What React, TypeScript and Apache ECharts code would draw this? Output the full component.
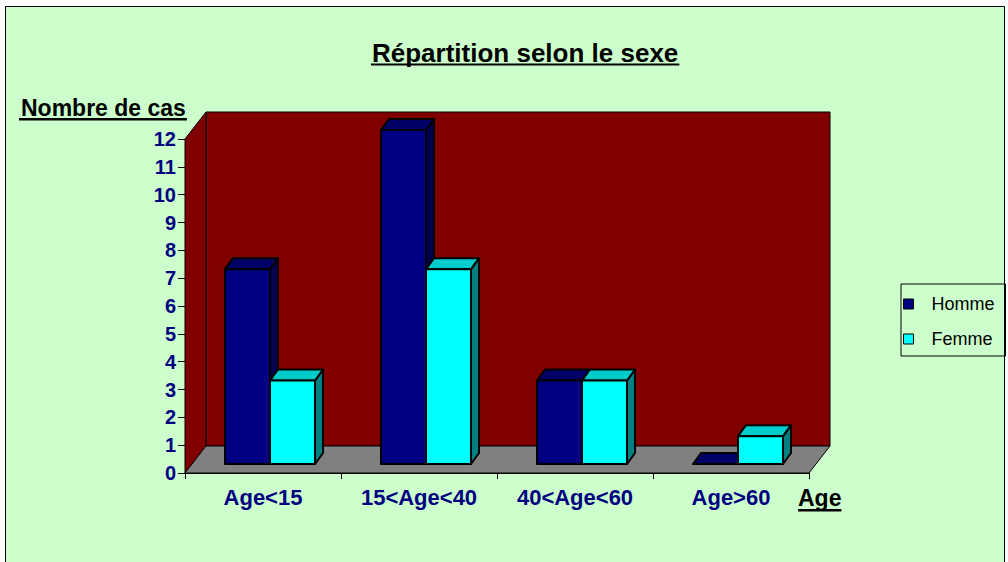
import React, { useEffect, useRef } from 'react';
import * as echarts from 'echarts';

// ---- data ----
const categories = ['Age<15', '15<Age<40', '40<Age<60', 'Age>60'];
const hommeValues = [7, 12, 3, 0];
const femmeValues = [3, 7, 3, 1];
const seriesNames = ['Homme', 'Femme'];
const yMin = 0;
const yMax = 12;
const yInterval = 1;
const titleText = 'Répartition selon le sexe';
const yAxisTitle = 'Nombre de cas';
const xAxisTitle = 'Age';

const FONT = 'Arial, "Liberation Sans", Helvetica, sans-serif';
const NAVY = '#000080';

const WALL_DEPTH = [21, -27];
const BAR_SHIFT = [7, -9];
const BAR_DEPTH = [8, -11];
const BAR_FRACTION = 0.2885;

function measure(text: string, size: number, weight: string): number {
  const ctx = document.createElement('canvas').getContext('2d');
  if (!ctx) return text.length * size * 0.55;
  ctx.font = `${weight} ${size}px ${FONT}`;
  return ctx.measureText(text).width;
}

function makeBarRenderer(side: number, colors: { front: string; top: string; side: string }) {
  return (params: any, api: any) => {
    const cat = api.value(0);
    const v = api.value(1);
    const base = api.coord([cat, 0]);
    const topP = api.coord([cat, v]);
    const band = api.size([1, 0])[0];
    const w = band * BAR_FRACTION;
    const x0 = base[0] - (side === 0 ? w : 0) + BAR_SHIFT[0];
    const yb = base[1] + BAR_SHIFT[1];
    const yt = topP[1] + BAR_SHIFT[1];
    const dx = BAR_DEPTH[0];
    const dy = BAR_DEPTH[1];
    const st = { stroke: '#000', lineWidth: 2, lineJoin: 'round' };
    const children: any[] = [
      {
        type: 'polygon',
        shape: { points: [[x0 + w, yt], [x0 + w + dx, yt + dy], [x0 + w + dx, yb + dy], [x0 + w, yb]] },
        style: { fill: colors.side, ...st },
      },
      {
        type: 'polygon',
        shape: { points: [[x0, yt], [x0 + dx, yt + dy], [x0 + w + dx, yt + dy], [x0 + w, yt]] },
        style: { fill: colors.top, ...st },
      },
    ];
    if (v > 0) {
      children.push({
        type: 'rect',
        shape: { x: x0, y: yt, width: w, height: yb - yt },
        style: { fill: colors.front, ...st },
      });
    }
    return { type: 'group', children };
  };
}

function wallsRenderer(params: any) {
  const cs = params.coordSys;
  const x = cs.x, y = cs.y, w = cs.width, h = cs.height;
  const dx = WALL_DEPTH[0], dy = WALL_DEPTH[1];
  const st = { stroke: '#000', lineWidth: 1 };
  return {
    type: 'group',
    children: [
      { type: 'rect', shape: { x: x + dx, y: y + dy, width: w, height: h }, style: { fill: '#800000', ...st } },
      {
        type: 'polygon',
        shape: { points: [[x, y + h], [x, y], [x + dx, y + dy], [x + dx, y + h + dy]] },
        style: { fill: '#800000', ...st },
      },
      {
        type: 'polygon',
        shape: { points: [[x, y + h], [x + dx, y + h + dy], [x + w + dx, y + h + dy], [x + w, y + h]] },
        style: { fill: '#808080', ...st },
      },
    ],
  };
}

export default function App() {
  const ref = useRef<HTMLDivElement>(null);

  useEffect(() => {
    if (!ref.current) return;
    const chart = echarts.init(ref.current, undefined, { renderer: 'svg' });

    const titleSize = 26;
    const titleW = measure(titleText, titleSize, 'bold');
    const titleLeft = 372;
    const yTitleSize = 23;
    const yTitleW = measure(yAxisTitle, yTitleSize, 'bold');
    const yTitleLeft = 21;
    const xTitleSize = 23;
    const xTitleW = measure(xAxisTitle, xTitleSize, 'bold');
    const xTitleLeft = 798;

    const legendFont = 18;
    const legendTextW = Math.max(...seriesNames.map((n) => measure(n, legendFont, 'normal')));
    const legendPadRight = Math.max(4, 1005 - (931 + legendTextW));

    const option: any = {
      animation: false,
      backgroundColor: '#ffffff',
      grid: { left: 185, top: 139, width: 624, height: 334, containLabel: false },
      xAxis: {
        type: 'category',
        data: categories,
        boundaryGap: true,
        axisLine: { show: true, lineStyle: { color: '#000', width: 1 } },
        axisTick: { show: true, length: 6, alignWithLabel: false, lineStyle: { color: '#000' } },
        axisLabel: {
          interval: 0,
          margin: 13,
          color: NAVY,
          fontWeight: 'bold',
          fontSize: 22,
          fontFamily: FONT,
        },
        splitLine: { show: false },
      },
      yAxis: {
        type: 'value',
        min: yMin,
        max: yMax,
        interval: yInterval,
        axisLine: { show: true, lineStyle: { color: '#000', width: 1 } },
        axisTick: { show: true, length: 7, lineStyle: { color: '#000' } },
        axisLabel: {
          margin: 9,
          color: NAVY,
          fontWeight: 'bold',
          fontSize: 20,
          fontFamily: FONT,
        },
        splitLine: { show: false },
      },
      legend: {
        data: seriesNames,
        orient: 'vertical',
        left: 901,
        top: 284,
        icon: 'rect',
        itemWidth: 10,
        itemHeight: 10,
        itemGap: 15,
        padding: [10, legendPadRight, 7, 2],
        borderColor: '#000',
        borderWidth: 1,
        backgroundColor: 'transparent',
        itemStyle: { borderColor: '#000', borderWidth: 1 },
        textStyle: {
          fontSize: legendFont,
          color: '#000',
          fontFamily: FONT,
          lineHeight: 20,
          padding: [0, 0, 0, 13],
        },
      },
      graphic: [
        {
          type: 'rect',
          z: -100,
          silent: true,
          shape: { x: 5.5, y: 6.5, width: 999, height: 600 },
          style: { fill: '#CCFFCC', stroke: '#000', lineWidth: 1 },
        },
        {
          type: 'text',
          x: titleLeft,
          y: 52.5,
          style: {
            text: titleText,
            font: `bold ${titleSize}px ${FONT}`,
            fill: '#000',
            align: 'left',
            verticalAlign: 'middle',
          },
        },
        {
          type: 'rect',
          shape: { x: titleLeft - 1, y: 63.5, width: titleW + 2, height: 2 },
          style: { fill: '#000' },
        },
        {
          type: 'text',
          x: yTitleLeft,
          y: 108,
          style: {
            text: yAxisTitle,
            font: `bold ${yTitleSize}px ${FONT}`,
            fill: '#000',
            align: 'left',
            verticalAlign: 'middle',
          },
        },
        {
          type: 'rect',
          shape: { x: yTitleLeft - 2, y: 118, width: yTitleW + 3, height: 2.5 },
          style: { fill: '#000' },
        },
        {
          type: 'text',
          x: xTitleLeft,
          y: 498,
          style: {
            text: xAxisTitle,
            font: `bold ${xTitleSize}px ${FONT}`,
            fill: '#000',
            align: 'left',
            verticalAlign: 'middle',
          },
        },
        {
          type: 'rect',
          shape: { x: xTitleLeft, y: 509, width: xTitleW, height: 2.5 },
          style: { fill: '#000' },
        },
      ],
      series: [
        {
          type: 'custom',
          name: 'walls',
          silent: true,
          z: 1,
          renderItem: wallsRenderer,
          data: [[0, 0]],
          encode: { x: 0, y: 1 },
        },
        {
          type: 'custom',
          name: seriesNames[0],
          z: 2,
          itemStyle: { color: '#000080' },
          renderItem: makeBarRenderer(0, { front: '#000080', top: '#000066', side: '#000050' }),
          data: hommeValues.map((v, i) => [i, v]),
          encode: { x: 0, y: 1 },
        },
        {
          type: 'custom',
          name: seriesNames[1],
          z: 3,
          itemStyle: { color: '#00FFFF' },
          renderItem: makeBarRenderer(1, { front: '#00FFFF', top: '#00CCCC', side: '#008080' }),
          data: femmeValues.map((v, i) => [i, v]),
          encode: { x: 0, y: 1 },
        },
      ],
    };

    chart.setOption(option);
    return () => {
      chart.dispose();
    };
  }, []);

  return (
    <div
      ref={ref}
      style={{ position: 'absolute', left: 0, top: 0, width: 1008, height: 562 }}
    />
  );
}
